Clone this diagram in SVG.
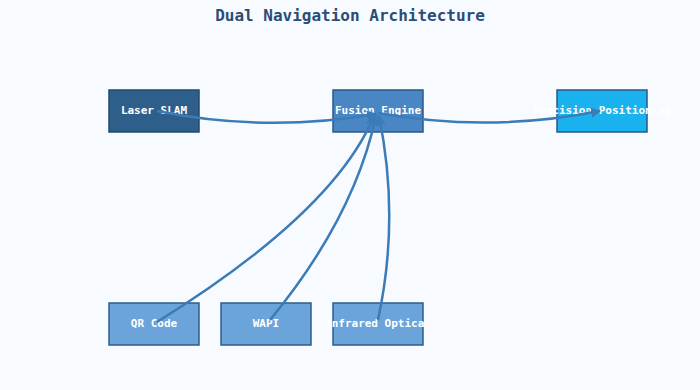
<svg xmlns="http://www.w3.org/2000/svg" width="700" height="390" viewBox="0 0 700 390">
<defs>
<style>
.node rect{stroke-width:1.5}
.node text{font-family:"DejaVu Sans Mono",monospace;font-weight:bold;font-size:11px;fill:#ffffff;text-anchor:middle;dominant-baseline:central}
.edge{fill:none;stroke:#3a7bb8;stroke-width:2.5;marker-end:url(#arr)}
.title{font-family:"DejaVu Sans Mono",monospace;font-weight:bold;font-size:16px;fill:#2a4d75;text-anchor:middle}
</style>
<marker id="arr" viewBox="0 0 10 10" refX="9" refY="5" markerWidth="4" markerHeight="4" orient="auto"><path d="M0,0L10,5L0,10z" fill="#3a7bb8"/></marker>
</defs>
<rect width="700" height="390" fill="#f7faff"/>
<text class="title" x="350" y="21">Dual Navigation Architecture</text>
<g id="laser-slam" class="node"><rect x="109" y="90" width="90" height="42" fill="#2e5f8a" stroke="#24496b"/><text x="154" y="110">Laser SLAM</text></g>
<g id="fusion-engine" class="node"><rect x="333" y="90" width="90" height="42" fill="#4a86c4" stroke="#2a5a88"/><text x="378" y="110">Fusion Engine</text></g>
<g id="precision-positioning" class="node"><rect x="557" y="90" width="90" height="42" fill="#1ab2ee" stroke="#2a5a85"/><text x="602" y="110">Precision Positioning</text></g>
<g id="qr-code" class="node"><rect x="109" y="303" width="90" height="42" fill="#6aa4da" stroke="#2d5f8a"/><text x="154" y="323">QR Code</text></g>
<g id="wapi" class="node"><rect x="221" y="303" width="90" height="42" fill="#6aa4da" stroke="#2d5f8a"/><text x="266" y="323">WAPI</text></g>
<g id="infrared-optical" class="node"><rect x="333" y="303" width="90" height="42" fill="#6aa4da" stroke="#2d5f8a"/><text x="378" y="323">Infrared Optical</text></g>
<g id="connectors">
<path class="edge" d="M157,111 Q266,133 376,114"/>
<path class="edge" d="M378,113 Q489,133 600,111"/>
<path class="edge" d="M157,322 Q334,212 374,116"/>
<path class="edge" d="M270,320 Q354,218 376,116"/>
<path class="edge" d="M378,320 Q400,218 379,116"/>
</g>
</svg>
